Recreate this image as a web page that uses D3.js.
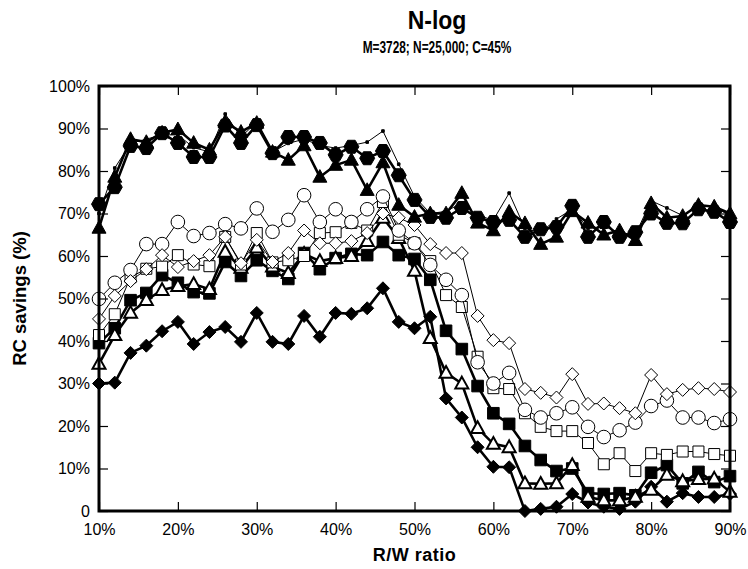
<!DOCTYPE html>
<html>
<head>
<meta charset="utf-8">
<title>N-log</title>
<script src="https://cdn.jsdelivr.net/npm/d3@7"></script>
<style>
  body { margin: 0; background: #fff; }
  text { font-family: Arial, "Liberation Sans", sans-serif; }
</style>
</head>
<body>
<script>
// R/W ratio categories (%)
const ratios = [10,12,14,16,18,20,22,24,26,28,30,32,34,36,38,40,42,44,46,48,50,
                52,54,56,58,60,62,64,66,68,70,72,74,76,78,80,82,84,86,88,90];

// RC savings (%) per series
const hexFilled = [72.2,76.2,85.9,85.4,88.9,86.6,83.3,83.3,90.7,86.6,90.8,84.2,88,88,86.6,83.8,85.7,83,84.7,79,73.2,
                   69.2,69,71.3,69,68,68.5,64.5,66.3,66.8,71.8,64.5,68,64.5,65.6,70,67.8,67.7,71,70.4,68];
const triFilled = [66.6,78.6,87.5,86.8,89,89.8,86.6,85,91.5,89.2,91.3,84.5,82.6,86,78.6,81.4,82.6,75.5,82,72,69.2,
                   70,70,74.8,67.8,66,70.4,67.7,62.8,64.5,70.5,67.8,65,66,63.7,72.4,69,69.4,72,71.6,70];
const dotThin   = [70,80.7,86.5,87.5,88.5,88.5,85.5,84.5,93.4,88,91.5,84.5,86.5,87.5,86,85.4,86,86.8,89.4,81.6,74,
                   70,70.5,72.5,69.5,68.5,74.8,66.5,65.5,68.7,71,66.5,67,65.5,65,73,71.3,69.5,72,71.5,69.5];
const diaOpen   = [45.2,50.6,54.1,56.9,60.2,57.4,58.8,60.2,64.5,58.3,63.8,58.6,60.7,66,63,63,63.5,65.4,70,69,67.3,
                   62.8,60.7,60.7,45.9,40.2,39.5,28.7,27.8,26.7,32.2,25.2,25.3,24.2,23,32,27.5,28.5,28.9,28.7,28];
const cirOpen   = [49.9,53.7,56.7,62.8,62.8,68,64.7,65.4,67.5,66.5,71.2,65.7,68.5,74.3,68,71,68,71,74,66,63,
                   57.9,54.4,50.8,35,30,32.5,23.8,22,23,24.4,19.8,17.4,19,20.8,24.7,26,22,22,20.7,21.6];
const sqrOpen   = [41.4,46.3,55,57,57.5,60.2,58,57.6,64.5,58,65.4,58.5,59,60,65.4,65.6,67.8,66,72.7,65,63,
                   58.8,50.8,48,36.3,28.9,28.7,23,19.8,18.8,18.8,16,11,13.6,9.4,13.6,13.2,14,14,13.4,13];
const triOpen   = [34.6,41.4,46.6,49.6,52,52.9,53.4,52.2,61,57.2,62,57.5,56,60.5,58.8,59.5,60,63.5,69,64.2,56.5,
                   40.7,32.5,30,19.5,15.8,15,6.5,6.4,6.5,10.8,3.3,2.5,2.5,3.3,5,8.5,7,7.5,7.6,4.5];
const sqrFilled = [39.5,43,49.6,51.3,55.5,53.7,51.5,51.2,58.6,55.3,59,56.5,54.6,60.7,56.9,59.5,60.5,60.2,63.3,60.2,59.3,
                   54.4,42.4,38.1,29.4,23,20.5,15.3,12,9.4,10,4.2,4,4.2,3.7,9,10.8,6.5,9.2,6.8,8.2];
const diaFilled = [30,30.2,37.2,38.9,42.3,44.5,39.3,42.1,43.3,39.8,46.6,39.8,39.3,45.9,41,46.6,46.4,47.7,52.4,44.5,43,
                   45.7,26.5,22,15,10.4,10.3,0,0.5,1,4,2,1,0.5,2.2,5.7,2.2,4.2,3.3,3.3,4];

const yTicks = [0,10,20,30,40,50,60,70,80,90,100];
const xTicks = [10,20,30,40,50,60,70,80,90];

const width = 748, height = 569;
const mLeft = 99, mRight = 730, mTop = 86, mBottom = 511;

const svg = d3.select("body").append("svg")
    .attr("width", width)
    .attr("height", height);

const x = d3.scaleLinear().domain([10, 90]).range([mLeft, mRight]);
const y = d3.scaleLinear().domain([0, 100]).range([mBottom, mTop]);

// marker shapes, size = half width in px
const hexagon = { draw(c, r) {
    for (let k = 0; k < 6; k++) {
        const a = Math.PI / 3 * k;
        const px = r * Math.cos(a), py = r * Math.sin(a);
        if (k === 0) c.moveTo(px, py); else c.lineTo(px, py);
    }
    c.closePath();
}};
const triangle = { draw(c, r) {
    c.moveTo(0, -r * 1.05);
    c.lineTo(r, r * 0.75);
    c.lineTo(-r, r * 0.75);
    c.closePath();
}};
const square = { draw(c, r) { c.rect(-r, -r, 2 * r, 2 * r); } };
const diamond = { draw(c, r) {
    c.moveTo(0, -r); c.lineTo(r, 0); c.lineTo(0, r); c.lineTo(-r, 0); c.closePath();
}};
const circle = { draw(c, r) { c.moveTo(r, 0); c.arc(0, 0, r, 0, 2 * Math.PI); } };

const series = [
    { values: diaFilled, shape: diamond,  r: 6.5, fill: "#000", lw: 2.6, mw: 1 },
    { values: sqrFilled, shape: square,   r: 5.8, fill: "#000", lw: 2.6, mw: 1 },
    { values: triOpen,   shape: triangle, r: 6.5, fill: "#fff", lw: 2.6, mw: 2 },
    { values: sqrOpen,   shape: square,   r: 5.5, fill: "#fff", lw: 1,   mw: 1 },
    { values: cirOpen,   shape: circle,   r: 6.8, fill: "#fff", lw: 1,   mw: 1 },
    { values: diaOpen,   shape: diamond,  r: 6.5, fill: "#fff", lw: 1,   mw: 1 },
    { values: dotThin,   shape: square,   r: 1.3, fill: "#000", lw: 1,   mw: 1 },
    { values: triFilled, shape: triangle, r: 7,   fill: "#000", lw: 2.6, mw: 1 },
    { values: hexFilled, shape: hexagon,  r: 7.5, fill: "#000", lw: 2.6, mw: 1 }
];

const line = d3.line().x((d, i) => x(ratios[i])).y(d => y(d));

const plot = svg.append("g");
series.forEach(s => {
    plot.append("path")
        .attr("d", line(s.values))
        .attr("fill", "none")
        .attr("stroke", "#000")
        .attr("stroke-width", s.lw)
        .attr("stroke-linejoin", "miter");
    plot.selectAll(null)
        .data(s.values)
        .join("path")
        .attr("transform", (d, i) => `translate(${x(ratios[i])},${y(d)})`)
        .attr("d", d3.symbol().type(s.shape).size(s.r))
        .attr("fill", s.fill)
        .attr("stroke", "#000")
        .attr("stroke-width", s.mw);
});

// axes with inward ticks on all four sides
const tickLen = 9;
const yFmt = d => d === 0 ? "0" : d + "%";
const xFmt = d => d + "%";

const gl = svg.append("g").attr("transform", `translate(${mLeft},0)`)
    .call(d3.axisLeft(y).tickValues(yTicks).tickFormat(yFmt).tickSize(-tickLen).tickPadding(9));
const gr = svg.append("g").attr("transform", `translate(${mRight},0)`)
    .call(d3.axisRight(y).tickValues(yTicks).tickFormat("").tickSize(-tickLen));
const gb = svg.append("g").attr("transform", `translate(0,${mBottom})`)
    .call(d3.axisBottom(x).tickValues(xTicks).tickFormat(xFmt).tickSize(-tickLen).tickPadding(13));
const gt = svg.append("g").attr("transform", `translate(0,${mTop})`)
    .call(d3.axisTop(x).tickValues(xTicks).tickFormat("").tickSize(-tickLen));

[gl, gr, gb, gt].forEach(g => {
    g.select(".domain").remove();
    g.selectAll(".tick line").attr("stroke", "#000").attr("stroke-width", 1.2);
    g.selectAll(".tick text")
        .attr("fill", "#000")
        .style("font-size", "16px")
        .style("font-family", "Arial, 'Liberation Sans', sans-serif");
});

svg.append("rect")
    .attr("x", mLeft).attr("y", mTop)
    .attr("width", mRight - mLeft).attr("height", mBottom - mTop)
    .attr("fill", "none")
    .attr("stroke", "#000")
    .attr("stroke-width", 3);

// titles (narrow bold look of the original)
svg.append("text")
    .attr("transform", "translate(437,29) scale(0.92,1)")
    .attr("text-anchor", "middle")
    .style("font-size", "25px").style("font-weight", "bold")
    .text("N-log");
svg.append("text")
    .attr("transform", "translate(437,53) scale(0.72,1)")
    .attr("text-anchor", "middle")
    .style("font-size", "16.5px").style("font-weight", "bold")
    .text("M=3728; N=25,000; C=45%");
svg.append("text")
    .attr("x", (mLeft + mRight) / 2).attr("y", 561)
    .attr("text-anchor", "middle")
    .style("font-size", "18px").style("font-weight", "bold")
    .style("letter-spacing", "0.5px")
    .text("R/W ratio");
svg.append("text")
    .attr("transform", `translate(26,${(mTop + mBottom) / 2}) rotate(-90)`)
    .attr("text-anchor", "middle")
    .style("font-size", "18.5px").style("font-weight", "bold")
    .text("RC savings (%)");
</script>
</body>
</html>
